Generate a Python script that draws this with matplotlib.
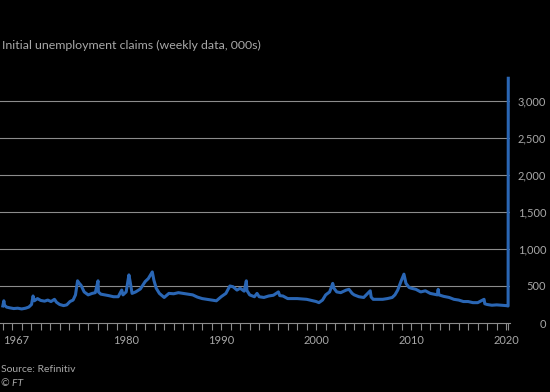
import matplotlib
matplotlib.use("Agg")
import matplotlib.pyplot as plt
import pandas as pd

# weekly initial claims, 000s (key weeks only)
dates = [
    "1967-01-07", "1967-02-15", "1967-03-15", "1967-06-01", "1967-10-01",
    "1968-03-01", "1968-08-01", "1969-01-01", "1969-06-01", "1969-10-01",
    "1970-01-15", "1970-03-15", "1970-05-01", "1970-09-01", "1971-01-01",
    "1971-06-01", "1971-10-01", "1972-02-01", "1972-06-15", "1972-09-01",
    "1973-01-01", "1973-06-01", "1973-10-01", "1974-02-01", "1974-06-01",
    "1974-09-01", "1974-11-20", "1975-01-15", "1975-04-01", "1975-08-01",
    "1976-01-01", "1976-06-01", "1976-10-01", "1977-01-15", "1977-01-30",
    "1977-05-01", "1977-10-01", "1978-03-01", "1978-09-01", "1979-03-01",
    "1979-07-15", "1979-09-01", "1980-01-01", "1980-04-15", "1980-06-01",
    "1980-08-15", "1981-01-01", "1981-07-01", "1982-01-01", "1982-05-01",
    "1982-10-01", "1982-12-01", "1983-03-01", "1983-07-01", "1984-01-01",
    "1984-07-01", "1985-01-01", "1985-07-01", "1986-01-01", "1986-07-01",
    "1987-01-01", "1987-07-01", "1988-01-01", "1988-07-01", "1989-01-01",
    "1989-07-01", "1990-01-01", "1990-07-01", "1990-12-01", "1991-04-01",
    "1991-09-01", "1992-01-01", "1992-06-01", "1992-08-25", "1992-09-15",
    "1993-01-01", "1993-07-01", "1993-10-10", "1994-01-01", "1994-07-01",
    "1995-01-01", "1995-07-01", "1996-01-10", "1996-03-01", "1996-07-01",
    "1997-01-01", "1997-07-01", "1998-01-01", "1998-07-01", "1999-01-01",
    "1999-07-01", "2000-01-01", "2000-04-15", "2000-09-01", "2001-01-01",
    "2001-06-01", "2001-09-29", "2001-11-15", "2002-03-01", "2002-08-01",
    "2003-03-01", "2003-06-15", "2003-10-15", "2004-01-01", "2004-07-01",
    "2005-01-01", "2005-09-10", "2005-10-15", "2006-01-01", "2006-07-01",
    "2007-01-01", "2007-07-01", "2008-01-01", "2008-04-15", "2008-08-01",
    "2008-12-01", "2009-03-28", "2009-06-15", "2009-10-15", "2010-01-01",
    "2010-07-01", "2011-01-01", "2011-07-01", "2012-01-01", "2012-10-01",
    "2012-11-03", "2012-12-01", "2013-06-01", "2014-01-01", "2014-07-01",
    "2015-01-01", "2015-07-01", "2016-01-01", "2016-07-01", "2017-01-01",
    "2017-09-02", "2017-10-01", "2018-01-01", "2018-07-01", "2019-01-01",
    "2019-07-01", "2020-01-01", "2020-03-14", "2020-03-21",
]
claims = [
    230, 300, 240, 215, 205,
    195, 200, 190, 200, 215,
    250, 365, 300, 330, 305,
    295, 310, 290, 320, 280,
    250, 235, 245, 290, 310,
    380, 570, 540, 510, 420,
    380, 400, 410, 570, 420,
    390, 380, 370, 355, 355,
    445, 380, 420, 650, 560,
    400, 420, 460, 560, 600,
    690, 580, 470, 400, 345,
    400, 395, 410, 400, 390,
    380, 350, 330, 320, 310,
    300, 355, 400, 500, 490,
    445, 470, 430, 570, 440,
    380, 355, 400, 355, 345,
    365, 375, 420, 370, 365,
    330, 330, 330, 325, 320,
    305, 290, 275, 310, 380,
    420, 535, 470, 420, 410,
    445, 455, 400, 380, 355,
    345, 435, 350, 320, 320,
    320, 330, 345, 380, 445,
    560, 660, 535, 480, 470,
    455, 420, 435, 400, 380,
    455, 380, 360, 345, 320,
    310, 290, 290, 275, 275,
    320, 260, 250, 240, 245,
    240, 235, 230, 3307,
]

label_years = [1967, 1980, 1990, 2000, 2010, 2020]
y_ticks = [0, 500, 1000, 1500, 2000, 2500, 3000]

BG = "#000000"
GRID = "#8c8c8c"
TEXT = "#a8a8a8"
BLUE = "#2a66b4"

d = pd.to_datetime(dates)
x = d.year + (d.dayofyear - 1) / 365.25

fig = plt.figure(figsize=(5.5, 3.92), dpi=100, facecolor=BG)
ax = fig.add_axes([0.0, 69 / 392, 510 / 550, 245.7 / 392], facecolor=BG)

ax.plot(x, claims, color=BLUE, lw=2.2, solid_joinstyle="round", clip_on=False, zorder=3)

ax.set_xlim(1966.72, 2020.4)
ax.set_ylim(0, 3320)

for s in ["top", "left", "right"]:
    ax.spines[s].set_visible(False)
ax.spines["bottom"].set_color(GRID)
ax.spines["bottom"].set_linewidth(0.8)

years = list(range(1967, 2021))
ax.set_xticks(years + [x[-1]])
ax.set_xticklabels([str(yr) if yr in label_years else "" for yr in years] + [""])
ax.tick_params(axis="x", length=5, width=0.8, color=GRID, labelcolor=TEXT,
               labelsize=8, pad=4)
ax.get_xticklabels()[0].set_horizontalalignment("left")

ax.yaxis.tick_right()
ax.set_yticks(y_ticks)
ax.set_yticklabels([f"{v:,}" for v in y_ticks])
ax.tick_params(axis="y", length=0, labelcolor=TEXT, labelsize=8, pad=26)
for lab in ax.get_yticklabels():
    lab.set_horizontalalignment("right")

ax.grid(axis="y", color=GRID, lw=0.8)
ax.yaxis.get_gridlines()[0].set_visible(False)
ax.set_axisbelow(True)

for t in ax.get_xticklabels() + ax.get_yticklabels():
    t.set_fontfamily("Lato")

fig.text(0.004, 1 - 45 / 392, "Initial unemployment claims (weekly data, 000s)",
         color=TEXT, fontsize=8.9, family="Lato", va="center", ha="left")
fig.text(0.002, 1 - 370 / 392, "Source: Refinitiv", color=TEXT, fontsize=7.5,
         family="Lato", va="center", ha="left")
fig.text(0.002, 1 - 383 / 392, "\u00a9 FT", color=TEXT, fontsize=7.5,
         family="Lato", style="italic", va="center", ha="left")

fig.savefig("out.png", dpi=100, facecolor=BG)
